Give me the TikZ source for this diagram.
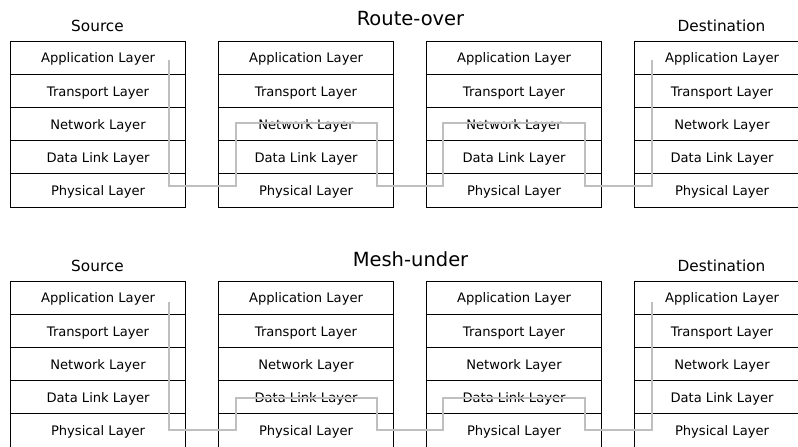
\documentclass[tikz,border=0pt]{standalone}
\usepackage{fontspec}
\setmainfont{DejaVu Sans}
\begin{document}
\begin{tikzpicture}[x=1pt,y=-1pt,
  cell/.style={draw=black,line width=0.9pt,minimum width=175pt,minimum height=33.2pt,inner sep=0pt,text height=10.5pt,text depth=0pt,font=\fontsize{13.1}{15}\selectfont,anchor=center},
  hdr/.style={font=\fontsize{15.3}{18}\selectfont,inner sep=0pt},
  ttl/.style={font=\fontsize{19.5}{23}\selectfont,inner sep=0pt},
  route/.style={draw=black!25,line width=2pt}]
\useasboundingbox (0,0) rectangle (798,447);
% stacks
\foreach \s/\x in {1/10.5,2/218.5,3/426.5,4/634.5}{
  \foreach \r/\t in {1/Application Layer,2/Transport Layer,3/Network Layer,4/Data Link Layer,5/Physical Layer}{
    \node[cell] (t\s r\r) at (\x+87.5,{41+33.2*(\r-0.5)}) {\t};
    \node[cell] (b\s r\r) at (\x+87.5,{281+33.2*(\r-0.5)}) {\t};
  }
}
\node[hdr] (tsrc) at (97.5,26) {Source};
\node[ttl] (ttitle) at (410.5,19) {Route-over};
\node[hdr] (tdst) at (721.5,26) {Destination};
\node[hdr] (bsrc) at (97.5,266) {Source};
\node[ttl] (btitle) at (410.5,259) {Mesh-under};
\node[hdr] (bdst) at (721.5,266) {Destination};
% route-over path
\coordinate (ta) at (169,60);
\coordinate (tb) at (169,186);
\coordinate (tc) at (236,186);
\coordinate (td) at (236,123);
\coordinate (te) at (377,123);
\coordinate (tf) at (377,186);
\coordinate (tg) at (443,186);
\coordinate (th) at (443,123);
\coordinate (ti) at (585,123);
\coordinate (tj) at (585,186);
\coordinate (tk) at (652,186);
\coordinate (tl) at (652,60);
\draw[route] (ta)--(tb)--(tc)--(td)--(te)--(tf)--(tg)--(th)--(ti)--(tj)--(tk)--(tl);
% mesh-under path
\coordinate (ba) at (169,302);
\coordinate (bb) at (169,430);
\coordinate (bc) at (236,430);
\coordinate (bd) at (236,398);
\coordinate (be) at (377,398);
\coordinate (bf) at (377,430);
\coordinate (bg) at (443,430);
\coordinate (bh) at (443,398);
\coordinate (bi) at (585,398);
\coordinate (bj) at (585,430);
\coordinate (bk) at (652,430);
\coordinate (bl) at (652,302);
\draw[route] (ba)--(bb)--(bc)--(bd)--(be)--(bf)--(bg)--(bh)--(bi)--(bj)--(bk)--(bl);
\end{tikzpicture}
\end{document}
